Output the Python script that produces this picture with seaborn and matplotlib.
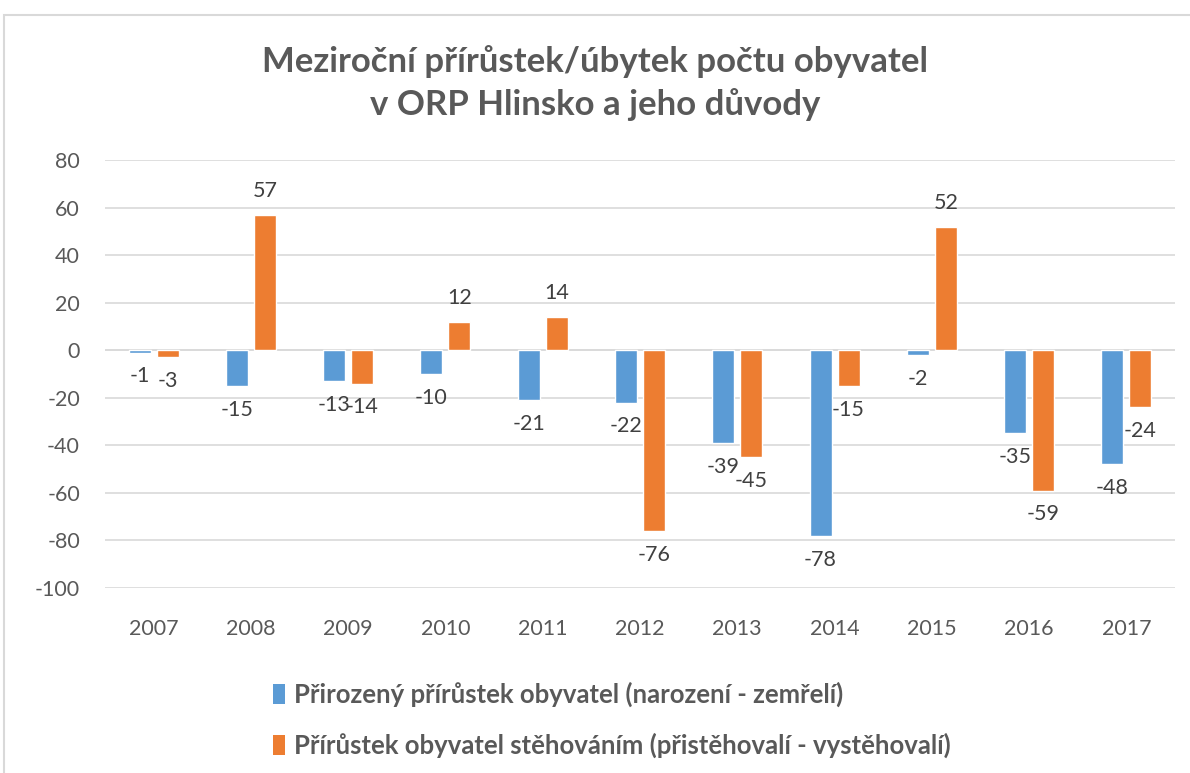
import matplotlib
matplotlib.use("Agg")
import matplotlib.pyplot as plt
import seaborn as sns
import pandas as pd
from matplotlib.patches import Patch, Rectangle

years = ["2007", "2008", "2009", "2010", "2011", "2012", "2013", "2014", "2015", "2016", "2017"]
natural = [-1, -15, -13, -10, -21, -22, -39, -78, -2, -35, -48]
migration = [-3, 57, -14, 12, 14, -76, -45, -15, 52, -59, -24]
series_names = ["Přirozený přírůstek obyvatel (narození - zemřelí)",
                "Přírůstek obyvatel stěhováním (přistěhovalí - vystěhovalí)"]
title = "Meziroční přírůstek/úbytek počtu obyvatel\nv ORP Hlinsko a jeho důvody"

colors = ["#5B9BD5", "#ED7D31"]

df = pd.DataFrame({
    "year": years * 2,
    "value": natural + migration,
    "series": [series_names[0]] * len(years) + [series_names[1]] * len(years),
})

sns.set_theme(style="white")
plt.rcParams["font.family"] = ["Lato", "DejaVu Sans"]
plt.rcParams["axes.unicode_minus"] = False

fig = plt.figure(figsize=(11.9, 7.73), dpi=100)
ax = fig.add_axes([105 / 1190, 1 - 588 / 773, 1070 / 1190, 428 / 773])

sns.barplot(data=df, x="year", y="value", hue="series", hue_order=series_names,
            palette=colors, width=0.576, gap=0.215, saturation=1, ax=ax, legend=False)

ax.set_ylim(-100, 80)
ax.set_xlim(-0.5, len(years) - 0.5)
ax.set_yticks(range(-100, 81, 20))
ax.yaxis.grid(True, color="#D9D9D9", linewidth=1.2)
ax.set_axisbelow(True)
for s in ax.spines.values():
    s.set_visible(False)
ax.axhline(0, color="#D9D9D9", linewidth=1.2, zorder=0.5)
ax.set_xlabel("")
ax.set_ylabel("")
ax.tick_params(axis="both", length=0, labelsize=15.5, labelcolor="#595959")
ax.tick_params(axis="x", pad=22)
ax.tick_params(axis="y", pad=18)

for cont in ax.containers:
    ax.bar_label(cont, fmt="%d", padding=10, fontsize=15.5, color="#404040")

fig.text(0.5, 1 - 83 / 773, title, ha="center", va="center", fontsize=25,
         fontweight="bold", color="#595959", linespacing=1.4)

handles = [Patch(facecolor=c, edgecolor="none") for c in colors]
fig.legend(handles, series_names, loc="center left",
           bbox_to_anchor=(250 / 1190, 1 - 720 / 773), frameon=False,
           prop={"weight": "bold", "size": 18.5}, labelcolor="#595959",
           handlelength=0.45, handleheight=0.8, handletextpad=0.35, labelspacing=1.0)

fig.patches.append(Rectangle((4 / 1190, -0.05), 1.2, 1 - 15 / 773 + 0.05,
                             transform=fig.transFigure, fill=False,
                             edgecolor="#D9D9D9", linewidth=1.5))

fig.savefig("out.png", dpi=100)
